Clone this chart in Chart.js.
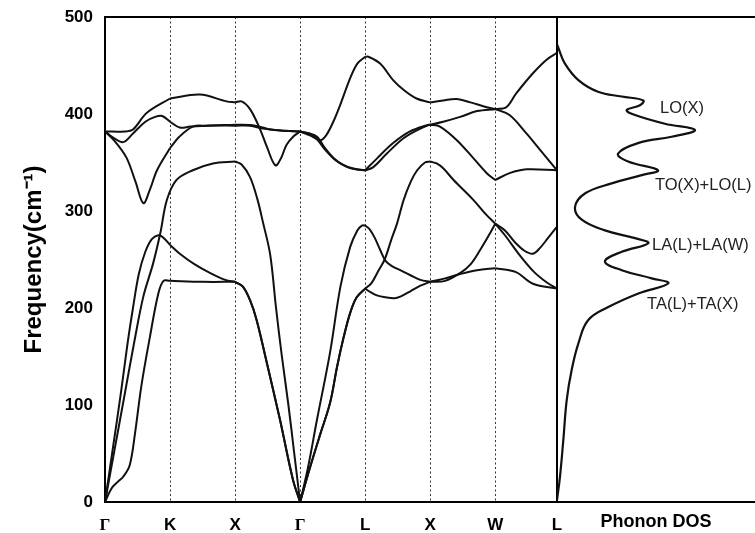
<!DOCTYPE html>
<html>
<head>
<meta charset="utf-8">
<script src="https://cdn.jsdelivr.net/npm/chart.js@4.4.1/dist/chart.umd.min.js"></script>
<style>
  html, body { margin: 0; padding: 0; background: #fff; }
  #wrap { position: relative; width: 755px; height: 533px; overflow: hidden; }
  #bands { position: absolute; left: 0; top: 0; }
  #dos { position: absolute; left: 557px; top: 0; }
</style>
</head>
<body>
<div id="wrap">
  <canvas id="bands" width="600" height="533"></canvas>
  <canvas id="dos" width="198" height="533"></canvas>
</div>
<script>
// high symmetry path
const kLabels = ['Γ', 'K', 'X', 'Γ', 'L', 'X', 'W', 'L']
const kPositions = [0, 1, 2, 3, 4, 5, 6, 6.95]

// phonon branches, [k, frequency in cm-1]
const bandTA = [[0,0],[0.1,14],[0.2,21],[0.28,26],[0.38,38],[0.46,70],[0.56,120],[0.69,170],[0.82,215],[0.9,228],[1,228],[1.5,227],[2,227],
  [2.12,222],[2.23,208],[2.33,188],[2.49,143],[2.69,85],[2.89,23],[3,0],
  [3.15,35],[3.31,70],[3.46,102],[3.57,140],[3.67,170],[3.77,195],[3.87,211],[4,220],
  [4.09,216],[4.18,213],[4.31,211],[4.45,210],[4.55,212],[4.69,217],[4.85,223],[5,227],
  [5.2,230],[5.46,235],[5.72,239],[6,241],
  [6.32,237],[6.58,225],[6.95,220]]
const bandLA1 = [[0,0],[0.12,55],[0.25,115],[0.35,165],[0.43,200],[0.52,235],[0.62,258],[0.72,271],[0.82,275],[0.89,273],[1,265],[1.15,256],[1.38,245],[1.62,236],[1.85,229],[2,227],
  [2.12,222],[2.23,208],[2.33,188],[2.49,143],[2.69,85],[2.89,23],[3,0],
  [3.15,35],[3.31,70],[3.46,102],[3.57,140],[3.67,170],[3.77,195],[3.87,211],[4,220],
  [4.1,226],[4.2,238],[4.3,250],[4.4,270],[4.49,287],[4.59,311],[4.7,330],[4.8,342],[4.92,350],[5,351],
  [5.1,349],[5.2,344],[5.36,332],[5.67,311],[5.85,297],[6,287],
  [6.15,275],[6.37,255],[6.6,237],[6.8,226],[6.95,220]]
const bandLA2 = [[0,0],[0.15,55],[0.3,110],[0.45,165],[0.59,212],[0.74,246],[0.85,277],[0.95,311],[1.1,332],[1.35,342],[1.66,349],[2,351],
  [2.1,348],[2.23,335],[2.34,313],[2.43,288],[2.54,255],[2.63,200],[2.72,150],[2.82,100],[2.91,50],[3,0],
  [3.12,35],[3.26,85],[3.46,154],[3.62,222],[3.77,263],[3.88,280],[3.95,285],[4,285],
  [4.07,281],[4.15,272],[4.23,260],[4.32,248],[4.42,243],[4.54,239],[4.69,234],[4.85,229],[5,227],
  [5.23,228],[5.46,236],[5.62,245],[5.77,260],[5.92,277],[6,287],
  [6.15,280],[6.3,268],[6.45,259],[6.58,256],[6.69,262],[6.81,272],[6.95,284]]
const bandOptA = [[0,382],[0.3,382],[0.43,384],[0.64,401],[1,416],[1.46,420],[1.87,413],[2,412],
  [2.1,413],[2.23,405],[2.38,385],[2.49,366],[2.62,347],[2.71,355],[2.79,368],[2.9,377],[3,382],
  [3.15,378],[3.31,373],[3.4,378],[3.51,392],[3.62,410],[3.77,437],[3.88,452],[4,459],
  [4.05,459],[4.23,452],[4.43,435],[4.59,425],[4.79,416],[5,412],
  [5.2,414],[5.41,415.5],[5.62,412],[5.87,407],[6,405],
  [6.17,407],[6.32,421],[6.58,442],[6.79,456],[6.95,463]]
const bandOptB = [[0,382],[0.12,376],[0.28,371],[0.43,380],[0.62,392],[0.77,397],[0.88,398],[1,392],[1.15,386],[1.31,387],[1.6,388],[2,388],
  [2.23,388],[2.43,385],[2.69,383],[3,382],
  [3.25,377],[3.38,365],[3.51,355],[3.65,348],[3.8,344],[4,342],
  [4.18,354],[4.43,370],[4.69,382],[4.95,388.5],[5,389],
  [5.2,392],[5.46,397],[5.72,403],[6,405],
  [6.22,399],[6.48,380],[6.69,363],[6.95,342]]
const bandOptC = [[0,382],[0.15,372],[0.33,355],[0.47,330],[0.59,308],[0.69,322],[0.8,342],[1,365],[1.15,377],[1.35,387],[1.54,388],[2,389],
  [2.31,388],[2.54,384],[3,382],
  [3.2,378],[3.4,362],[3.55,352],[3.7,346],[3.85,343],[4,342],
  [4.12,345],[4.33,359],[4.59,375],[4.85,385],[5,389],
  [5.15,387],[5.41,373],[5.67,354],[5.87,339],[6,332],
  [6.22,339],[6.48,343],[6.95,342]]

// phonon density of states (arb. units) against frequency
const dosFreq = [472, 468, 452, 435, 423, 418, 414, 409, 404, 399, 390, 383.5, 376.6, 370, 359, 351, 342, 337, 328.5, 318, 304, 291, 280, 272, 266.7, 258, 248, 239, 230.6, 225.4, 215, 201, 187.6, 163.6, 136, 105, 64, 26, 2]
const dosValue = [0, 0.007, 0.04, 0.108, 0.207, 0.327, 0.436, 0.419, 0.352, 0.394, 0.545, 0.697, 0.579, 0.409, 0.308, 0.359, 0.51, 0.428, 0.276, 0.141, 0.091, 0.125, 0.242, 0.394, 0.461, 0.327, 0.242, 0.327, 0.478, 0.562, 0.411, 0.259, 0.158, 0.108, 0.074, 0.049, 0.032, 0.015, 0]
const dosNotes = ['LO(X)', 'TO(X)+LO(L)', 'LA(L)+LA(W)', 'TA(L)+TA(X)']
const dosNoteFreq = [406, 326, 264, 204]
const dosNoteAt = [0.52, 0.495, 0.48, 0.455]

// cut each branch at the high symmetry points so the kinks stay sharp
function splitBand(band) {
  const pieces = []
  let cur = []
  band.forEach(([x, y], i) => {
    cur.push({ x, y })
    if (i > 0 && kPositions.includes(x) && i < band.length - 1) {
      pieces.push(cur)
      cur = [{ x, y }]
    }
  })
  pieces.push(cur)
  return pieces
}

const bandDatasets = []
;[bandTA, bandLA1, bandLA2, bandOptA, bandOptB, bandOptC].forEach(b => {
  splitBand(b).forEach(piece => {
    bandDatasets.push({
      data: piece,
      showLine: true,
      borderColor: '#111',
      borderWidth: 2,
      pointRadius: 0,
      tension: 0.35,
      fill: false
    })
  })
})

const framePlugin = {
  id: 'frame',
  afterDatasetsDraw(chart, args, opts) {
    const { ctx, chartArea: a } = chart
    ctx.save()
    ctx.strokeStyle = '#000'
    ctx.lineWidth = 2
    ctx.beginPath()
    ctx.moveTo(a.left, a.top)
    ctx.lineTo(a.right, a.top)
    if (opts.right) ctx.lineTo(a.right, a.bottom)
    ctx.stroke()
    ctx.restore()
  }
}

const notePlugin = {
  id: 'notes',
  afterDatasetsDraw(chart) {
    const { ctx, scales: { x, y } } = chart
    ctx.save()
    ctx.font = '16.5px "Liberation Sans", Arial, sans-serif'
    ctx.fillStyle = '#222'
    ctx.textBaseline = 'middle'
    dosNotes.forEach((t, i) => {
      ctx.fillText(t, x.getPixelForValue(dosNoteAt[i]), y.getPixelForValue(dosNoteFreq[i]))
    })
    ctx.restore()
  }
}

const tickFont = { family: '"Liberation Sans", Arial, sans-serif', size: 17, weight: 'bold' }

new Chart(document.getElementById('bands'), {
  type: 'scatter',
  data: { datasets: bandDatasets },
  options: {
    responsive: false,
    animation: false,
    layout: { padding: { top: 17, right: 43, left: 0, bottom: 0 } },
    plugins: { legend: { display: false }, tooltip: { enabled: false }, frame: { right: true } },
    scales: {
      x: {
        type: 'linear',
        min: 0,
        max: 6.95,
        afterBuildTicks: axis => { axis.ticks = kPositions.map(v => ({ value: v })) },
        afterFit: axis => { axis.height = 31; axis.paddingLeft = 0; axis.paddingRight = 0 },
        ticks: {
          autoSkip: false,
          maxRotation: 0,
          padding: 13,
          color: '#000',
          callback: (v, i) => kLabels[i],
          font: ctx => ({
            family: kLabels[ctx.index] === 'Γ' ? '"Liberation Serif", serif' : tickFont.family,
            size: 17,
            weight: 'bold'
          })
        },
        grid: {
          drawTicks: false,
          lineWidth: 1,
          color: ctx => (ctx.index === 0 || ctx.index === kPositions.length - 1) ? 'rgba(0,0,0,0)' : '#333'
        },
        border: { display: true, color: '#000', width: 2, dash: [2, 2.5] }
      },
      y: {
        min: 0,
        max: 500,
        afterFit: axis => { axis.width = 105; axis.paddingTop = 10; axis.paddingBottom = 10 },
        ticks: { stepSize: 100, padding: 12, color: '#000', font: tickFont },
        grid: { display: false, drawTicks: false },
        border: { display: true, color: '#000', width: 2 },
        title: {
          display: true,
          text: 'Frequency(cm⁻¹)',
          color: '#000',
          font: { family: '"Liberation Sans", Arial, sans-serif', size: 24, weight: 'bold' },
          padding: { top: 20, bottom: 0 }
        }
      }
    }
  },
  plugins: [framePlugin]
})

new Chart(document.getElementById('dos'), {
  type: 'scatter',
  data: {
    datasets: [{
      data: dosFreq.map((f, i) => ({ x: dosValue[i], y: f })),
      showLine: true,
      borderColor: '#111',
      borderWidth: 2.2,
      pointRadius: 0,
      tension: 0.4
    }]
  },
  options: {
    responsive: false,
    animation: false,
    layout: { padding: { top: 17, right: 0, left: 0, bottom: 0 } },
    plugins: { legend: { display: false }, tooltip: { enabled: false }, frame: { right: false } },
    scales: {
      x: {
        type: 'linear',
        min: 0,
        max: 1,
        afterFit: axis => { axis.height = 31 },
        ticks: { display: false },
        grid: { display: false, drawTicks: false },
        border: { display: true, color: '#000', width: 2 },
        title: {
          display: true,
          text: 'Phonon DOS',
          color: '#000',
          font: { family: '"Liberation Sans", Arial, sans-serif', size: 18, weight: 'bold' },
          padding: { top: 0, bottom: 0 }
        }
      },
      y: { display: false, min: 0, max: 500 }
    }
  },
  plugins: [framePlugin, notePlugin]
})
</script>
</body>
</html>
